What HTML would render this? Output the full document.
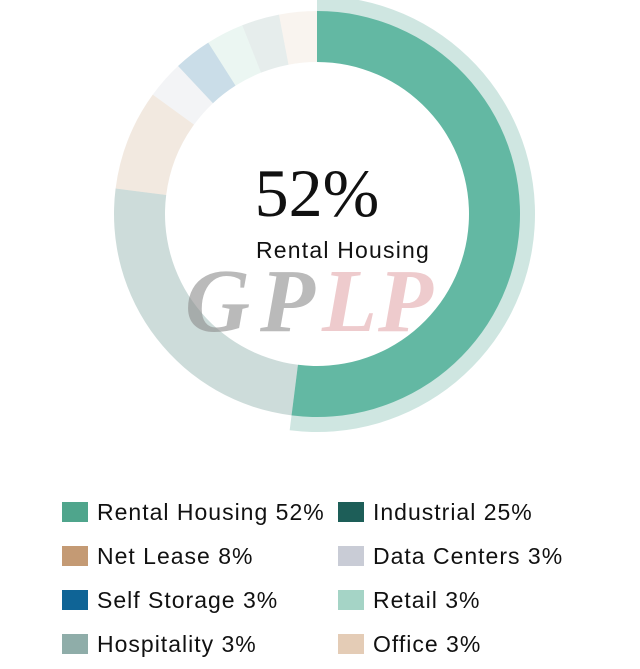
<!DOCTYPE html>
<html><head><meta charset="utf-8"><style>
html,body{margin:0;padding:0;background:#fff;width:640px;height:669px;overflow:hidden;font-family:"Liberation Sans",sans-serif}
.leg{position:absolute;font-size:23px;letter-spacing:1px;color:#111;line-height:24px;white-space:nowrap}
.sw{position:absolute;width:26px;height:20px}
</style></head><body>
<svg id="chart" width="640" height="669" style="position:absolute;left:0;top:0">
<g id="slices"></g>
<text x="317" y="216" text-anchor="middle" font-family="Liberation Serif" font-size="68" fill="#111">52%</text>
<text x="343" y="258" text-anchor="middle" font-family="Liberation Sans" font-size="23" letter-spacing="1.2" fill="#111">Rental Housing</text>
<g font-family="Liberation Serif" font-style="italic" font-weight="bold" font-size="90">
<text x="185" y="331" fill="#8c8c8c" fill-opacity="0.6">G</text>
<text x="260" y="331" fill="#8c8c8c" fill-opacity="0.6">P</text>
<text x="322" y="331" fill="#e3a8ac" fill-opacity="0.6">L</text>
<text x="378" y="331" fill="#e3a8ac" fill-opacity="0.6">P</text>
</g>
</svg>
<div id="legend"></div>
<script>
const categories=["Rental Housing","Industrial","Net Lease","Data Centers","Self Storage","Retail","Hospitality","Office"];
const values=[52,25,8,3,3,3,3,3];
const legendOrder=["Rental Housing","Industrial","Net Lease","Data Centers","Self Storage","Retail","Hospitality","Office"];
const colors=["#4fa58c","#1d5e58","#c49a74","#c9ccd6","#0f6496","#a5d4c6","#8fada9","#e4ccb6"];
const selected=0;
const cx=317,cy=214,r0=152,r1=203,rh=218;
const total=values.reduce((a,b)=>a+b,0);
function pt(r,a){return [cx+r*Math.sin(a),cy-r*Math.cos(a)];}
function arc(ri,ro,a0,a1){const l=(a1-a0)>Math.PI?1:0;const p1=pt(ro,a0),p2=pt(ro,a1),p3=pt(ri,a1),p4=pt(ri,a0);
return `M${p1[0]},${p1[1]}A${ro},${ro} 0 ${l} 1 ${p2[0]},${p2[1]}L${p3[0]},${p3[1]}A${ri},${ri} 0 ${l} 0 ${p4[0]},${p4[1]}Z`;}
const g=document.getElementById('slices');const ns="http://www.w3.org/2000/svg";
let acc=0;
values.forEach((v,i)=>{const a0=acc/total*2*Math.PI;acc+=v;const a1=acc/total*2*Math.PI;
if(i===selected){const h=document.createElementNS(ns,'path');h.setAttribute('d',arc(r1-2,rh,a0,a1));h.setAttribute('fill','#cfe6e1');


g.appendChild(h);}
const p=document.createElementNS(ns,'path');p.setAttribute('d',arc(r0,r1,a0,a1));
p.setAttribute('fill',i===selected?'#63b8a3':colors[i]);
if(i!==selected)p.setAttribute('fill-opacity','0.22');


g.appendChild(p);
});
const L=document.getElementById('legend');
legendOrder.forEach((c,j)=>{const i=categories.indexOf(c);const col=j%2,row=Math.floor(j/2);
const x=col?338:62,y=502+row*44;
const s=document.createElement('div');s.className='sw';s.style.left=x+'px';s.style.top=y+'px';s.style.background=colors[i];


L.appendChild(s);
const t=document.createElement('div');t.className='leg';t.style.left=(x+35)+'px';t.style.top=(y-2)+'px';t.textContent=c+' '+values[i]+'%';


L.appendChild(t);});
</script>
</body></html>
